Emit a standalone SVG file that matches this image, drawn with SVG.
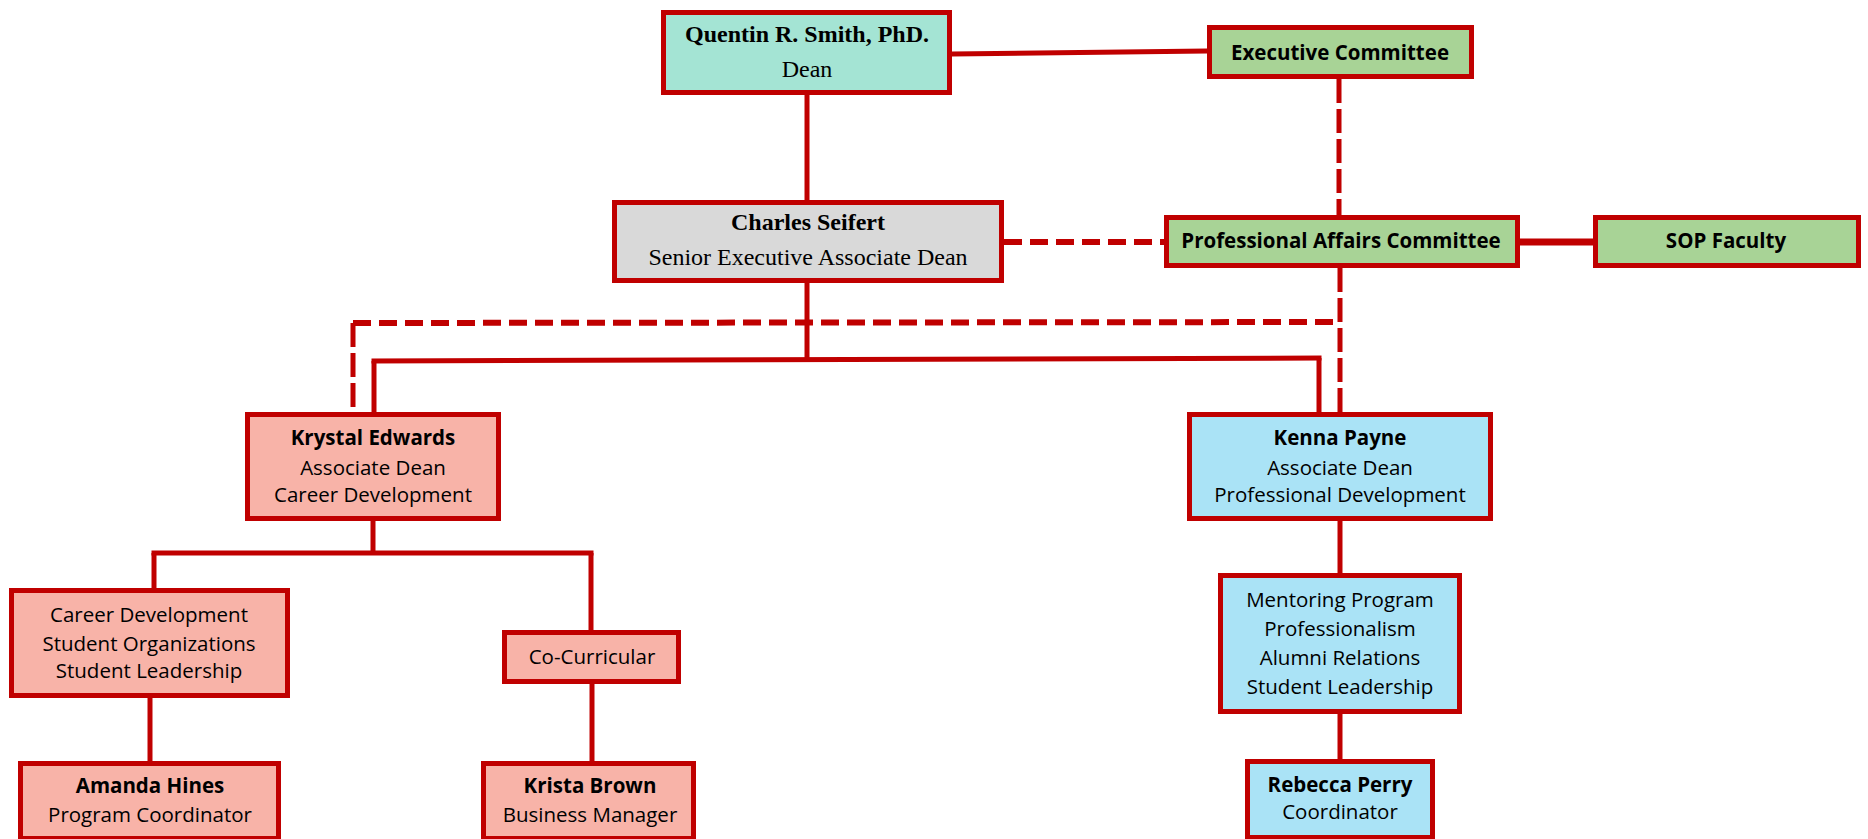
<svg xmlns="http://www.w3.org/2000/svg" width="1868" height="839" viewBox="0 0 1868 839">
<style>
.box{stroke:#C00000;stroke-width:5}
.teal{fill:#A4E4D4}.gray{fill:#D9D9D9}.green{fill:#A8D396}.pink{fill:#F8B3A8}.blue{fill:#AAE3F6}
.ln{stroke:#C00000;stroke-width:5;fill:none}
.dh{stroke:#C00000;stroke-width:6;fill:none;stroke-dasharray:18 8}
.dv{stroke:#C00000;stroke-width:5;fill:none;stroke-dasharray:24 6}
.serif{font-family:"Liberation Serif","Times New Roman",serif;font-size:24px;fill:#000;text-anchor:middle}
.sans{font-family:"Open Sans","Liberation Sans",sans-serif;font-size:20.5px;fill:#000;text-anchor:middle}
.b{font-weight:700}
</style>
<rect width="1868" height="839" fill="#fff"/>
<g id="connectors">
<line class="ln" x1="807" y1="95" x2="807" y2="200"/>
<line class="ln" x1="952" y1="54" x2="1207" y2="51"/>
<line class="dv" x1="1339" y1="79" x2="1339" y2="215"/>
<line class="dh" x1="1004" y1="242" x2="1164" y2="242"/>
<line class="ln" x1="1520" y1="242" x2="1593" y2="242" style="stroke-width:7"/>
<line class="dv" x1="1340" y1="268" x2="1340" y2="412"/>
<line class="dh" x1="353" y1="323" x2="1341" y2="322"/>
<line class="dv" x1="353" y1="323" x2="353" y2="412"/>
<line class="ln" x1="807" y1="283" x2="807" y2="360"/>
<line class="ln" x1="371.5" y1="361" x2="1321.5" y2="358"/>
<line class="ln" x1="374" y1="361" x2="374" y2="412"/>
<line class="ln" x1="1319" y1="358" x2="1319" y2="412"/>
<line class="ln" x1="373" y1="521" x2="373" y2="553"/>
<line class="ln" x1="151.5" y1="553" x2="593.5" y2="553"/>
<line class="ln" x1="154" y1="553" x2="154" y2="588"/>
<line class="ln" x1="591" y1="553" x2="591" y2="630"/>
<line class="ln" x1="150" y1="698" x2="150" y2="761"/>
<line class="ln" x1="592" y1="684" x2="592" y2="761"/>
<line class="ln" x1="1340" y1="521" x2="1340" y2="573"/>
<line class="ln" x1="1340" y1="714" x2="1340" y2="759"/>
</g>
<g id="dean">
<rect class="box teal" x="663.5" y="12.5" width="286" height="80"/>
<text class="serif b" x="807" y="42">Quentin R. Smith, PhD.</text>
<text class="serif" x="807" y="77">Dean</text>
</g>
<g id="exec">
<rect class="box green" x="1209.5" y="27.5" width="262" height="49"/>
<text class="sans b" x="1340" y="60">Executive Committee</text>
</g>
<g id="seifert">
<rect class="box gray" x="614.5" y="202.5" width="387" height="78"/>
<text class="serif b" x="808" y="230">Charles Seifert</text>
<text class="serif" x="808" y="265">Senior Executive Associate Dean</text>
</g>
<g id="pac">
<rect class="box green" x="1166.5" y="217.5" width="351" height="48"/>
<text class="sans b" x="1341" y="248">Professional Affairs Committee</text>
</g>
<g id="sop">
<rect class="box green" x="1595.5" y="217.5" width="263" height="48"/>
<text class="sans b" x="1726" y="248">SOP Faculty</text>
</g>
<g id="krystal">
<rect class="box pink" x="247.5" y="414.5" width="251" height="104"/>
<text class="sans b" x="373" y="445">Krystal Edwards</text>
<text class="sans" x="373" y="475">Associate Dean</text>
<text class="sans" x="373" y="502">Career Development</text>
</g>
<g id="kenna">
<rect class="box blue" x="1189.5" y="414.5" width="301" height="104"/>
<text class="sans b" x="1340" y="445">Kenna Payne</text>
<text class="sans" x="1340" y="475">Associate Dean</text>
<text class="sans" x="1340" y="502">Professional Development</text>
</g>
<g id="careerdev">
<rect class="box pink" x="11.5" y="590.5" width="276" height="105"/>
<text class="sans" x="149" y="622">Career Development</text>
<text class="sans" x="149" y="651">Student Organizations</text>
<text class="sans" x="149" y="678">Student Leadership</text>
</g>
<g id="cocurricular">
<rect class="box pink" x="504.5" y="632.5" width="174" height="49"/>
<text class="sans" x="592" y="664">Co-Curricular</text>
</g>
<g id="mentoring">
<rect class="box blue" x="1220.5" y="575.5" width="239" height="136"/>
<text class="sans" x="1340" y="607">Mentoring Program</text>
<text class="sans" x="1340" y="636">Professionalism</text>
<text class="sans" x="1340" y="665">Alumni Relations</text>
<text class="sans" x="1340" y="694">Student Leadership</text>
</g>
<g id="amanda">
<rect class="box pink" x="20.5" y="763.5" width="258" height="75"/>
<text class="sans b" x="150" y="793">Amanda Hines</text>
<text class="sans" x="150" y="822">Program Coordinator</text>
</g>
<g id="krista">
<rect class="box pink" x="483.5" y="763.5" width="210" height="75"/>
<text class="sans b" x="590" y="793">Krista Brown</text>
<text class="sans" x="590" y="822">Business Manager</text>
</g>
<g id="rebecca">
<rect class="box blue" x="1247.5" y="761.5" width="185" height="76"/>
<text class="sans b" x="1340" y="792">Rebecca Perry</text>
<text class="sans" x="1340" y="819">Coordinator</text>
</g>
</svg>
